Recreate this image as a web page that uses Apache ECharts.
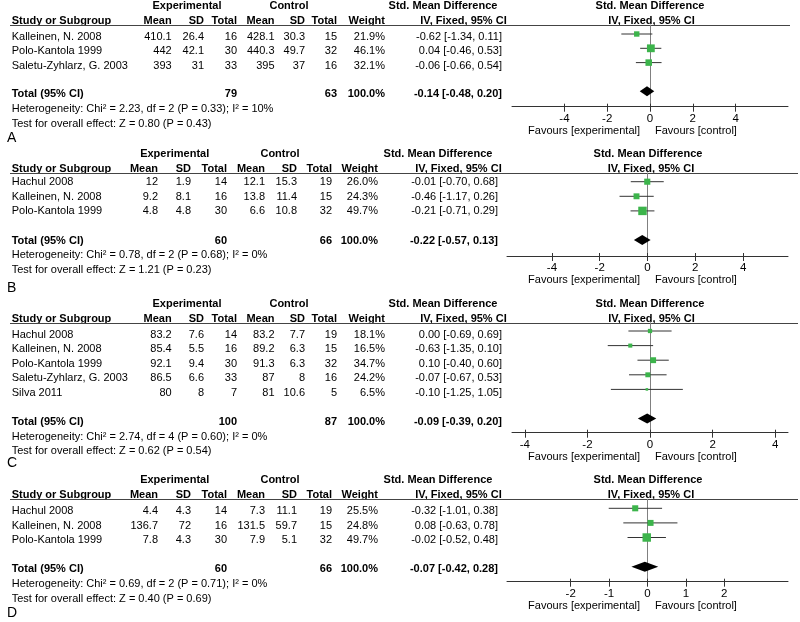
<!DOCTYPE html>
<html><head><meta charset="utf-8">
<script src="https://cdn.jsdelivr.net/npm/echarts@6/dist/echarts.min.js"></script>
<style>html,body{margin:0;padding:0;background:#fff}#c{width:800px;height:622px}</style>
</head><body><div id="c"></div>
<script>
// ---------- Panel A ----------
const studiesA = ["Kalleinen, N. 2008", "Polo-Kantola 1999", "Saletu-Zyhlarz, G. 2003"];
const expMeanA = [410.1, 442, 393];
const expSDA = [26.4, 42.1, 31];
const expNA = [16, 30, 33];
const ctlMeanA = [428.1, 440.3, 395];
const ctlSDA = [30.3, 49.7, 37];
const ctlNA = [15, 32, 16];
const weightA = [21.9, 46.1, 32.1];
const smdA = [-0.62, 0.04, -0.06];
const lowerA = [-1.34, -0.46, -0.66];
const upperA = [0.11, 0.53, 0.54];
const totalA = [-0.14, -0.48, 0.20];
const totalNA = [79, 63];
const hetA = "Heterogeneity: Chi² = 2.23, df = 2 (P = 0.33); I² = 10%";
const testA = "Test for overall effect: Z = 0.80 (P = 0.43)";
const ticksA = [-4, -2, 0, 2, 4];

// ---------- Panel B ----------
const studiesB = ["Hachul 2008", "Kalleinen, N. 2008", "Polo-Kantola 1999"];
const expMeanB = [12, 9.2, 4.8];
const expSDB = [1.9, 8.1, 4.8];
const expNB = [14, 16, 30];
const ctlMeanB = [12.1, 13.8, 6.6];
const ctlSDB = [15.3, 11.4, 10.8];
const ctlNB = [19, 15, 32];
const weightB = [26.0, 24.3, 49.7];
const smdB = [-0.01, -0.46, -0.21];
const lowerB = [-0.70, -1.17, -0.71];
const upperB = [0.68, 0.26, 0.29];
const totalB = [-0.22, -0.57, 0.13];
const totalNB = [60, 66];
const hetB = "Heterogeneity: Chi² = 0.78, df = 2 (P = 0.68); I² = 0%";
const testB = "Test for overall effect: Z = 1.21 (P = 0.23)";
const ticksB = [-4, -2, 0, 2, 4];

// ---------- Panel C ----------
const studiesC = ["Hachul 2008", "Kalleinen, N. 2008", "Polo-Kantola 1999", "Saletu-Zyhlarz, G. 2003", "Silva 2011"];
const expMeanC = [83.2, 85.4, 92.1, 86.5, 80];
const expSDC = [7.6, 5.5, 9.4, 6.6, 8];
const expNC = [14, 16, 30, 33, 7];
const ctlMeanC = [83.2, 89.2, 91.3, 87, 81];
const ctlSDC = [7.7, 6.3, 6.3, 8, 10.6];
const ctlNC = [19, 15, 32, 16, 5];
const weightC = [18.1, 16.5, 34.7, 24.2, 6.5];
const smdC = [0.00, -0.63, 0.10, -0.07, -0.10];
const lowerC = [-0.69, -1.35, -0.40, -0.67, -1.25];
const upperC = [0.69, 0.10, 0.60, 0.53, 1.05];
const totalC = [-0.09, -0.39, 0.20];
const totalNC = [100, 87];
const hetC = "Heterogeneity: Chi² = 2.74, df = 4 (P = 0.60); I² = 0%";
const testC = "Test for overall effect: Z = 0.62 (P = 0.54)";
const ticksC = [-4, -2, 0, 2, 4];

// ---------- Panel D ----------
const studiesD = ["Hachul 2008", "Kalleinen, N. 2008", "Polo-Kantola 1999"];
const expMeanD = [4.4, 136.7, 7.8];
const expSDD = [4.3, 72, 4.3];
const expND = [14, 16, 30];
const ctlMeanD = [7.3, 131.5, 7.9];
const ctlSDD = [11.1, 59.7, 5.1];
const ctlND = [19, 15, 32];
const weightD = [25.5, 24.8, 49.7];
const smdD = [-0.32, 0.08, -0.02];
const lowerD = [-1.01, -0.63, -0.52];
const upperD = [0.38, 0.78, 0.48];
const totalD = [-0.07, -0.42, 0.28];
const totalND = [60, 66];
const hetD = "Heterogeneity: Chi² = 0.69, df = 2 (P = 0.71); I² = 0%";
const testD = "Test for overall effect: Z = 0.40 (P = 0.69)";
const ticksD = [-2, -1, 0, 1, 2];

// ---------- layout (positions / styles) ----------
const FONT = "'Liberation Sans', Arial, Helvetica, sans-serif";
const F = '11px ' + FONT, FB = 'bold 11px ' + FONT;
const GREEN = '#3cb44b';
const colsAC = {name:11.7, expMean:171.7, expSD:204, expN:237, ctlMean:274.5, ctlSD:305, ctlN:337, weight:385, ci:502, expC:187, ctlC:289, smdC:443, ivC:463.5, pSmdC:650, pIvC:651.5};
const colsBD = {name:11.7, expMean:158, expSD:191, expN:227, ctlMean:265, ctlSD:297, ctlN:332, weight:378, ci:498, expC:174.7, ctlC:280, smdC:438, ivC:458.5, pSmdC:648, pIvC:651};
const layouts = [
  {underline:25, row0:34, step:14.3, axisY:106.7, textDy:3, ext:6.45, left:512, lineEnd:790, cols:colsAC, k:1.15, letterY:138.3},
  {underline:173, row0:181.7, step:14.6, axisY:256, textDy:0.5, ext:5.88, left:507, lineEnd:798, cols:colsBD, k:1.2, letterY:288},
  {underline:322.7, row0:331, step:14.6, axisY:432.7, textDy:3.5, ext:4.41, left:512, lineEnd:798, cols:colsAC, k:1.0, letterY:463.3},
  {underline:499.3, row0:508.3, step:14.6, axisY:581.7, textDy:2.7, ext:3.66, left:507, lineEnd:798, cols:colsBD, k:1.2, letterY:613.3}
];

const panels = [
  {letter:'A', studies:studiesA, expMean:expMeanA, expSD:expSDA, expN:expNA, ctlMean:ctlMeanA, ctlSD:ctlSDA, ctlN:ctlNA, weight:weightA, smd:smdA, lower:lowerA, upper:upperA, total:totalA, totalN:totalNA, het:hetA, test:testA, ticks:ticksA},
  {letter:'B', studies:studiesB, expMean:expMeanB, expSD:expSDB, expN:expNB, ctlMean:ctlMeanB, ctlSD:ctlSDB, ctlN:ctlNB, weight:weightB, smd:smdB, lower:lowerB, upper:upperB, total:totalB, totalN:totalNB, het:hetB, test:testB, ticks:ticksB},
  {letter:'C', studies:studiesC, expMean:expMeanC, expSD:expSDC, expN:expNC, ctlMean:ctlMeanC, ctlSD:ctlSDC, ctlN:ctlNC, weight:weightC, smd:smdC, lower:lowerC, upper:upperC, total:totalC, totalN:totalNC, het:hetC, test:testC, ticks:ticksC},
  {letter:'D', studies:studiesD, expMean:expMeanD, expSD:expSDD, expN:expND, ctlMean:ctlMeanD, ctlSD:ctlSDD, ctlN:ctlND, weight:weightD, smd:smdD, lower:lowerD, upper:upperD, total:totalD, totalN:totalND, het:hetD, test:testD, ticks:ticksD}
];

const f2 = v => v.toFixed(2);
const ciText = (e, lo, hi) => f2(e) + ' [' + f2(lo) + ', ' + f2(hi) + ']';
function txt(text, x, y, align, font) {
  return {type:'text', style:{text:String(text), x:x, y:y, align:align, verticalAlign:'middle', textAlign:align, textVerticalAlign:'middle', font:font || F, fill:'#000'}};
}
function gtxt(text, x, y, align, font) {
  return {type:'text', silent:true, style:{text:String(text), x:x, y:y, align:align, verticalAlign:'middle', textAlign:align, textVerticalAlign:'middle', font:font || F, fill:'#000'}};
}

const grids = [], xAxes = [], yAxes = [], series = [], graphics = [];
panels.forEach((p, i) => {
  const L = layouts[i], C = L.cols, n = p.studies.length;
  const yMin = (L.underline - L.row0) / L.step;
  const yMax = (L.axisY - L.row0) / L.step;
  grids.push({left:L.left, right:12, top:L.underline, height:L.axisY - L.underline, containLabel:false, outerBoundsMode:'none'});
  xAxes.push({gridIndex:i, type:'value', min:-L.ext, max:L.ext, position:'bottom',
    axisLine:{onZero:false, lineStyle:{color:'#333', width:1}},
    axisTick:{customValues:p.ticks, length:5, lineStyle:{color:'#333'}},
    axisLabel:{customValues:p.ticks, margin:6, color:'#000', fontSize:11.5, fontFamily:FONT},
    splitLine:{show:false}});
  xAxes.push({gridIndex:i, type:'value', min:-L.ext, max:L.ext, position:'bottom', offset:0,
    axisLine:{show:false, onZero:false},
    axisTick:{inside:true, customValues:p.ticks, length:3, lineStyle:{color:'#333'}},
    axisLabel:{show:false}, splitLine:{show:false}});
  yAxes.push({gridIndex:i, type:'value', inverse:true, min:yMin, max:yMax,
    axisLine:{show:true, onZero:true, lineStyle:{color:'#808080', width:1}},
    axisTick:{show:false}, axisLabel:{show:false}, splitLine:{show:false}});

  // study rows
  series.push({type:'custom', coordinateSystem:'cartesian2d', xAxisIndex:2*i, yAxisIndex:i, clip:false, silent:true,
    data: p.smd.map((v, j) => [v, j]),
    renderItem: function (params, api) {
      const j = params.dataIndex;
      const pE = api.coord([p.smd[j], j]);
      const pLo = api.coord([p.lower[j], j]);
      const pHi = api.coord([p.upper[j], j]);
      const y = pE[1];
      const ty = y + L.textDy;
      const sz = L.k * Math.sqrt(p.weight[j]);
      return {type:'group', children:[
        {type:'line', shape:{x1:pLo[0], y1:y, x2:pHi[0], y2:y}, style:{stroke:'#333', lineWidth:1}},
        {type:'rect', shape:{x:pE[0] - sz / 2, y:y - sz / 2, width:sz, height:sz}, style:{fill:GREEN}},
        txt(p.studies[j], C.name, ty, 'left'),
        txt(p.expMean[j], C.expMean, ty, 'right'),
        txt(p.expSD[j], C.expSD, ty, 'right'),
        txt(p.expN[j], C.expN, ty, 'right'),
        txt(p.ctlMean[j], C.ctlMean, ty, 'right'),
        txt(p.ctlSD[j], C.ctlSD, ty, 'right'),
        txt(p.ctlN[j], C.ctlN, ty, 'right'),
        txt(p.weight[j].toFixed(1) + '%', C.weight, ty, 'right'),
        txt(ciText(p.smd[j], p.lower[j], p.upper[j]), C.ci, ty, 'right')
      ]};
    }
  });

  // total row
  series.push({type:'custom', coordinateSystem:'cartesian2d', xAxisIndex:2*i, yAxisIndex:i, clip:false, silent:true,
    data: [[p.total[0], n + 1]],
    renderItem: function (params, api) {
      const r = n + 1;
      const pE = api.coord([p.total[0], r]);
      const pLo = api.coord([p.total[1], r]);
      const pHi = api.coord([p.total[2], r]);
      const y = pE[1], h = 5;
      const ty = y + L.textDy;
      return {type:'group', children:[
        {type:'polygon', shape:{points:[[pLo[0], y], [pE[0], y - h], [pHi[0], y], [pE[0], y + h]]}, style:{fill:'#000'}},
        txt('Total (95% CI)', C.name, ty, 'left', FB),
        txt(p.totalN[0], C.expN, ty, 'right', FB),
        txt(p.totalN[1], C.ctlN, ty, 'right', FB),
        txt('100.0%', C.weight, ty, 'right', FB),
        txt(ciText(p.total[0], p.total[1], p.total[2]), C.ci, ty, 'right', FB)
      ]};
    }
  });

  // headers, footers
  const h1 = L.underline - 19, h2 = L.underline - 4;
  graphics.push(
    gtxt('Experimental', C.expC, h1, 'center', FB),
    gtxt('Control', C.ctlC, h1, 'center', FB),
    gtxt('Std. Mean Difference', C.smdC, h1, 'center', FB),
    gtxt('Std. Mean Difference', C.pSmdC, h1, 'center', FB),
    gtxt('Study or Subgroup', C.name, h2, 'left', FB),
    gtxt('Mean', C.expMean, h2, 'right', FB),
    gtxt('SD', C.expSD, h2, 'right', FB),
    gtxt('Total', C.expN, h2, 'right', FB),
    gtxt('Mean', C.ctlMean, h2, 'right', FB),
    gtxt('SD', C.ctlSD, h2, 'right', FB),
    gtxt('Total', C.ctlN, h2, 'right', FB),
    gtxt('Weight', C.weight, h2, 'right', FB),
    gtxt('IV, Fixed, 95% CI', C.ivC, h2, 'center', FB),
    gtxt('IV, Fixed, 95% CI', C.pIvC, h2, 'center', FB),
    {type:'line', silent:true, shape:{x1:10, y1:Math.round(L.underline) + 0.5, x2:L.lineEnd, y2:Math.round(L.underline) + 0.5}, style:{stroke:'#444', lineWidth:1}}
  );
  const totY = L.row0 + (n + 1) * L.step + L.textDy;
  graphics.push(
    gtxt(p.het, C.name, totY + 14.7, 'left'),
    gtxt(p.test, C.name, totY + 29.3, 'left'),
    gtxt(p.letter, 7, L.letterY, 'left', '14px ' + FONT),
    gtxt('Favours [experimental]', 640, L.axisY + 24, 'right'),
    gtxt('Favours [control]', 655, L.axisY + 24, 'left')
  );
});

const chart = echarts.init(document.getElementById('c'), null, {renderer:'canvas'});
chart.setOption({
  animation:false,
  backgroundColor:'#fff',
  grid:grids, xAxis:xAxes, yAxis:yAxes, series:series,
  graphic:{elements:graphics}
});
</script>
</body></html>
